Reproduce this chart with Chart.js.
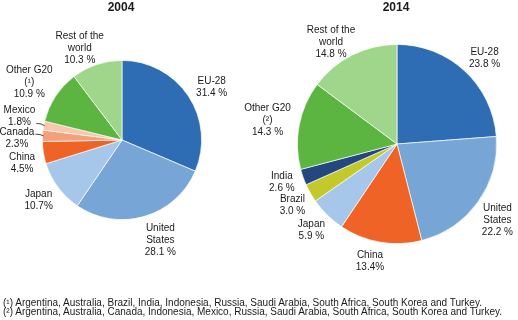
<!DOCTYPE html>
<html>
<head>
<meta charset="utf-8">
<script src="https://cdn.jsdelivr.net/npm/chart.js@4.4.1/dist/chart.umd.min.js"></script>
<style>
  html, body { margin: 0; padding: 0; background: #fff; }
  #wrap { position: relative; width: 518px; height: 320px; overflow: hidden; }
  canvas { position: absolute; left: 0; top: 0; }
  .note { position: absolute; left: 3px; font: 10px "Liberation Sans", Arial, sans-serif; line-height: 10px; color: #1a1a1a; white-space: nowrap; }
</style>
</head>
<body>
<div id="wrap">
  <canvas id="c2004" width="518" height="320"></canvas>
  <canvas id="c2014" width="518" height="320"></canvas>
  <div class="note" style="top:298px">(¹) Argentina, Australia, Brazil, India, Indonesia, Russia, Saudi Arabia, South Africa, South Korea and Turkey.</div>
  <div class="note" style="top:307px">(²) Argentina, Australia, Canada, Indonesia, Mexico, Russia, Saudi Arabia, South Africa, South Korea and Turkey.</div>
</div>
<script>
  // Datos 2004
  const names2004 = [['EU-28'], ['United', 'States'], ['Japan'], ['China'], ['Canada'], ['Mexico'], ['Other G20', '(¹)'], ['Rest of the', 'world']];
  const values2004 = [31.4, 28.1, 10.7, 4.5, 2.3, 1.8, 10.9, 10.3];
  const pctSep2004 = [' ', ' ', '', '', '', '', ' ', ' '];

  // Datos 2014
  const names2014 = [['EU-28'], ['United', 'States'], ['China'], ['Japan'], ['Brazil'], ['India'], ['Other G20', '(²)'], ['Rest of the', 'world']];
  const values2014 = [23.8, 22.2, 13.4, 5.9, 3.0, 2.6, 14.3, 14.8];
  const pctSep2014 = [' ', ' ', '', ' ', ' ', ' ', ' ', ' '];

  const colours = {
    'EU-28': '#2e6db4',
    'United States': '#76a5d6',
    'Japan': '#a7c7ea',
    'China': '#ef6326',
    'Canada': '#f4a17b',
    'Mexico': '#f9c7ad',
    'Brazil': '#c3c82b',
    'India': '#25477f',
    'Other G20': '#5db541',
    'Rest of the world': '#a0d68b'
  };

  const FONT = '"Liberation Sans", Arial, sans-serif';

  // Etiquetas alrededor de cada porción
  const sliceLabels = {
    id: 'sliceLabels',
    afterDatasetsDraw(chart, args, opts) {
      const ctx = chart.ctx;
      const meta = chart.getDatasetMeta(0);
      const values = chart.data.datasets[0].data;
      ctx.save();
      ctx.fillStyle = '#1a1a1a';
      ctx.textAlign = 'center';
      ctx.textBaseline = 'middle';

      const first = meta.data[0].getProps(['x', 'y', 'outerRadius'], true);
      ctx.font = 'bold 12px ' + FONT;
      ctx.fillText(opts.title, first.x - 1, 8);

      ctx.font = '10px ' + FONT;
      const lh = 12;
      meta.data.forEach((arc, i) => {
        const p = arc.getProps(['x', 'y', 'startAngle', 'endAngle', 'outerRadius'], true);
        const a = (p.startAngle + p.endAngle) / 2 + (opts.nudge[i] || 0) * Math.PI / 180;
        const lines = opts.names[i].concat([values[i].toFixed(1) + opts.sep[i] + '%']);
        const w = Math.max(...lines.map(l => ctx.measureText(l).width));
        const h = lines.length * lh;
        const d = p.outerRadius + opts.gap + (opts.dist[i] || 0);
        const bx = p.x + Math.cos(a) * (d + w / 2);
        const by = p.y + Math.sin(a) * (d + h / 2);
        lines.forEach((l, k) => {
          ctx.fillText(l, bx, by - h / 2 + lh / 2 + k * lh);
        });
        if (opts.leader[i]) {
          const ma = (p.startAngle + p.endAngle) / 2;
          const ex = p.x + Math.cos(ma) * (p.outerRadius - 1);
          const ey = p.y + Math.sin(ma) * (p.outerRadius - 1);
          const sx = bx + w / 2 + 1;
          const sy = by + opts.leader[i];
          ctx.strokeStyle = '#1a1a1a';
          ctx.lineWidth = 0.8;
          ctx.beginPath();
          ctx.moveTo(sx, sy);
          ctx.quadraticCurveTo(ex - 3, sy, ex, ey);
          ctx.stroke();
        }
      });
      ctx.restore();
    }
  };

  function makePie(id, title, names, values, sep, nudge, dist, leader, gap, padding) {
    const fullNames = names.map(n => n.join(' ').replace(/ \(.\)$/, ''));
    return new Chart(document.getElementById(id).getContext('2d'), {
      type: 'pie',
      data: {
        labels: fullNames,
        datasets: [{
          data: values,
          backgroundColor: fullNames.map(n => colours[n]),
          borderColor: 'rgba(255,255,255,0.85)',
          borderWidth: 0.8
        }]
      },
      options: {
        responsive: false,
        animation: false,
        layout: { padding: padding },
        plugins: {
          legend: { display: false },
          tooltip: { enabled: false },
          sliceLabels: { title: title, names: names, sep: sep, nudge: nudge, dist: dist, leader: leader, gap: gap }
        }
      },
      plugins: [sliceLabels]
    });
  }

  makePie('c2004', '2004', names2004, values2004, pctSep2004,
    [2, -5, 0, -4, -2, 3, 0, -5],
    [0, 0, 0, 0, -2, 0, -2, -8],
    [0, 0, 0, 0, -4, 7, 0, 0],
    10, { left: 42, right: 316, top: 60, bottom: 100 });

  makePie('c2014', '2014', names2014, values2014, pctSep2014,
    [2, 1, 3, 0, -1, 1, 0, -5],
    [0, 1, 0, 0, 0, 0, 0, -7],
    [0, 0, 0, 0, 0, 0, 0, 0],
    9, { left: 297, right: 21, top: 44, bottom: 76 });
</script>
</body>
</html>
